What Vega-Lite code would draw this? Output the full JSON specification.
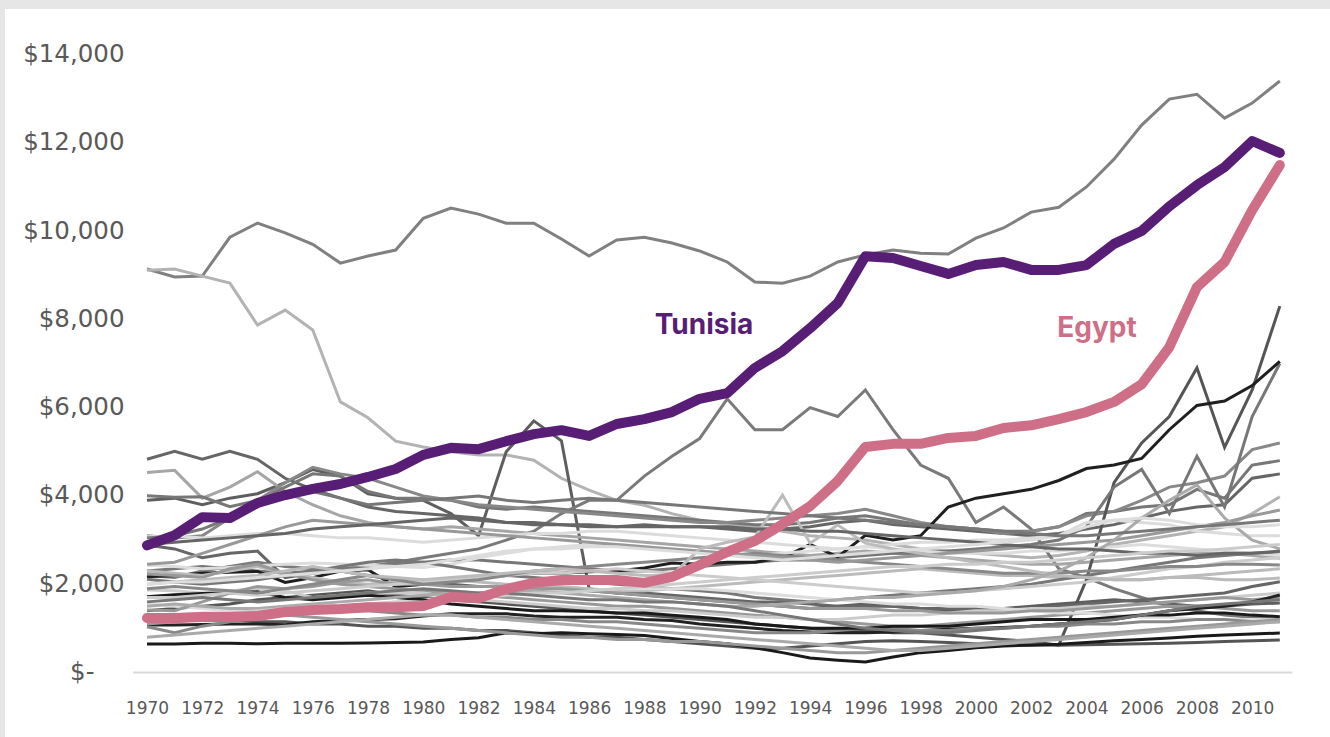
{
"$schema": "https://vega.github.io/schema/vega-lite/v6.json",
"width": 1325, "height": 728,
"autosize": {"type": "none"},
"padding": {"left": 5, "top": 9, "right": 0, "bottom": 0},
"background": "#e6e6e6",
"config": {"view": {"fill": "white", "stroke": null}, "font": "Inter", "legend": {"disable": true}},
"datasets": {"d": [
{"c":"Tunisia","1970":2880,"1971":3110,"1972":3520,"1973":3500,"1974":3840,"1975":4020,"1976":4160,"1977":4270,"1978":4430,"1979":4610,"1980":4930,"1981":5090,"1982":5060,"1983":5240,"1984":5400,"1985":5490,"1986":5360,"1987":5630,"1988":5740,"1989":5900,"1990":6200,"1991":6330,"1992":6900,"1993":7280,"1994":7800,"1995":8370,"1996":9430,"1997":9390,"1998":9210,"1999":9030,"2000":9230,"2001":9300,"2002":9120,"2003":9120,"2004":9230,"2005":9710,"2006":10000,"2007":10560,"2008":11040,"2009":11450,"2010":12040,"2011":11770},
{"c":"Egypt","1970":1235,"1971":1235,"1972":1257,"1973":1257,"1974":1280,"1975":1370,"1976":1415,"1977":1440,"1978":1480,"1979":1480,"1980":1505,"1981":1710,"1982":1680,"1983":1890,"1984":2030,"1985":2095,"1986":2095,"1987":2095,"1988":2030,"1989":2165,"1990":2435,"1991":2730,"1992":2980,"1993":3360,"1994":3770,"1995":4340,"1996":5110,"1997":5180,"1998":5180,"1999":5315,"2000":5360,"2001":5540,"2002":5600,"2003":5740,"2004":5900,"2005":6130,"2006":6530,"2007":7370,"2008":8730,"2009":9300,"2010":10475,"2011":11495},
{"c":"g01","1970":9140,"1971":8960,"1972":8980,"1973":9860,"1974":10180,"1975":9960,"1976":9700,"1977":9275,"1978":9435,"1979":9570,"1980":10290,"1981":10520,"1982":10385,"1983":10180,"1984":10180,"1985":9820,"1986":9435,"1987":9800,"1988":9860,"1989":9730,"1990":9550,"1991":9300,"1992":8845,"1993":8820,"1994":8980,"1995":9300,"1996":9460,"1997":9570,"1998":9500,"1999":9480,"2000":9840,"2001":10070,"2002":10430,"2003":10540,"2004":11000,"2005":11630,"2006":12400,"2007":12990,"2008":13100,"2009":12560,"2010":12900,"2011":13400},
{"c":"g02","1970":9110,"1971":9140,"1972":8980,"1973":8820,"1974":7870,"1975":8210,"1976":7760,"1977":6130,"1978":5770,"1979":5240,"1980":5110,"1981":5000,"1982":4930,"1983":4930,"1984":4810,"1985":4400,"1986":4130,"1987":3900,"1988":3790,"1989":3600,"1990":3450,"1991":3350,"1992":3300,"1993":3200,"1994":3100,"1995":3050,"1996":3000,"1997":2900,"1998":2800,"1999":2750,"2000":2700,"2001":2650,"2002":2600,"2003":2650,"2004":2750,"2005":2900,"2006":3000,"2007":3100,"2008":3200,"2009":3300,"2010":3600,"2011":3980},
{"c":"g03","1970":3900,"1971":3950,"1972":3800,"1973":3950,"1974":4050,"1975":4300,"1976":4600,"1977":4450,"1978":4050,"1979":3950,"1980":3900,"1981":3600,"1982":3100,"1983":5000,"1984":5700,"1985":5250,"1986":1900,"1987":1800,"1988":1750,"1989":1700,"1990":1650,"1991":1600,"1992":1550,"1993":1500,"1994":1450,"1995":1500,"1996":1550,"1997":1500,"1998":1450,"1999":1400,"2000":1400,"2001":1450,"2002":1500,"2003":1550,"2004":1600,"2005":1650,"2006":1600,"2007":1550,"2008":1500,"2009":1500,"2010":1550,"2011":1575},
{"c":"g04","1970":2200,"1971":2150,"1972":2300,"1973":2400,"1974":2500,"1975":2400,"1976":2350,"1977":2300,"1978":2400,"1979":2500,"1980":2600,"1981":2700,"1982":2800,"1983":3000,"1984":3200,"1985":3600,"1986":3900,"1987":3900,"1988":4450,"1989":4900,"1990":5300,"1991":6200,"1992":5500,"1993":5500,"1994":6000,"1995":5800,"1996":6400,"1997":5500,"1998":4700,"1999":4400,"2000":3400,"2001":3750,"2002":3250,"2003":2350,"2004":2150,"2005":1900,"2006":1700,"2007":1500,"2008":1400,"2009":1300,"2010":1250,"2011":1200},
{"c":"g05","1970":4830,"1971":5010,"1972":4830,"1973":5010,"1974":4830,"1975":4400,"1976":4150,"1977":3950,"1978":3750,"1979":3650,"1980":3600,"1981":3550,"1982":3500,"1983":3400,"1984":3350,"1985":3350,"1986":3300,"1987":3300,"1988":3350,"1989":3300,"1990":3300,"1991":3250,"1992":3200,"1993":3250,"1994":3300,"1995":3400,"1996":3450,"1997":3350,"1998":3300,"1999":3250,"2000":3200,"2001":3150,"2002":3100,"2003":3150,"2004":3250,"2005":3350,"2006":3500,"2007":3650,"2008":3750,"2009":3800,"2010":4400,"2011":4500},
{"c":"g06","1970":4530,"1971":4580,"1972":3950,"1973":4200,"1974":4550,"1975":4100,"1976":3800,"1977":3550,"1978":3400,"1979":3300,"1980":3250,"1981":3300,"1982":3250,"1983":3200,"1984":3150,"1985":3100,"1986":3050,"1987":3000,"1988":2950,"1989":2900,"1990":2850,"1991":2800,"1992":2750,"1993":2700,"1994":2650,"1995":2700,"1996":2750,"1997":2700,"1998":2650,"1999":2600,"2000":2550,"2001":2500,"2002":2450,"2003":2450,"2004":2500,"2005":2550,"2006":2600,"2007":2650,"2008":2700,"2009":2700,"2010":2650,"2011":2590},
{"c":"g07","1970":4005,"1971":3970,"1972":3980,"1973":3755,"1974":3900,"1975":4200,"1976":4500,"1977":4450,"1978":4100,"1979":3950,"1980":3950,"1981":3900,"1982":3750,"1983":3700,"1984":3750,"1985":3700,"1986":3650,"1987":3600,"1988":3550,"1989":3500,"1990":3450,"1991":3400,"1992":3350,"1993":3350,"1994":3400,"1995":3500,"1996":3550,"1997":3450,"1998":3350,"1999":3300,"2000":3250,"2001":3200,"2002":3200,"2003":3300,"2004":3600,"2005":3650,"2006":3750,"2007":3800,"2008":4150,"2009":3950,"2010":4700,"2011":4800},
{"c":"g08","1970":3100,"1971":3050,"1972":3100,"1973":3500,"1974":3900,"1975":4300,"1976":4650,"1977":4500,"1978":4400,"1979":4200,"1980":4000,"1981":3900,"1982":3800,"1983":3750,"1984":3700,"1985":3650,"1986":3600,"1987":3550,"1988":3500,"1989":3450,"1990":3400,"1991":3400,"1992":3450,"1993":3500,"1994":3550,"1995":3600,"1996":3700,"1997":3550,"1998":3400,"1999":3300,"2000":3250,"2001":3150,"2002":3200,"2003":3300,"2004":3550,"2005":3650,"2006":3900,"2007":4200,"2008":4300,"2009":4450,"2010":5050,"2011":5200},
{"c":"g09","1970":1400,"1971":1450,"1972":1500,"1973":1550,"1974":1650,"1975":1700,"1976":1750,"1977":1800,"1978":1850,"1979":1750,"1980":1700,"1981":1650,"1982":1600,"1983":1550,"1984":1500,"1985":1450,"1986":1400,"1987":1350,"1988":1300,"1989":1250,"1990":1200,"1991":1150,"1992":1100,"1993":1050,"1994":1000,"1995":950,"1996":950,"1997":900,"1998":900,"1999":850,"2000":800,"2001":750,"2002":700,"2003":620,"2004":2100,"2005":4300,"2006":5200,"2007":5800,"2008":6900,"2009":5100,"2010":6400,"2011":8300},
{"c":"g10","1970":2300,"1971":2350,"1972":2400,"1973":2350,"1974":2300,"1975":2250,"1976":2300,"1977":2350,"1978":2400,"1979":2450,"1980":2500,"1981":2550,"1982":2550,"1983":2500,"1984":2450,"1985":2400,"1986":2350,"1987":2300,"1988":2300,"1989":2350,"1990":2400,"1991":2450,"1992":2500,"1993":2550,"1994":2550,"1995":2600,"1996":2650,"1997":2700,"1998":2700,"1999":2750,"2000":2800,"2001":2850,"2002":2900,"2003":3000,"2004":3300,"2005":4200,"2006":4600,"2007":3600,"2008":4900,"2009":3750,"2010":5800,"2011":7000},
{"c":"g11","1970":2170,"1971":2200,"1972":2250,"1973":2270,"1974":2290,"1975":2040,"1976":2150,"1977":2300,"1978":2330,"1979":1945,"1980":2000,"1981":2100,"1982":2150,"1983":2200,"1984":2250,"1985":2250,"1986":2280,"1987":2300,"1988":2370,"1989":2480,"1990":2450,"1991":2500,"1992":2500,"1993":2600,"1994":2900,"1995":2620,"1996":3110,"1997":3000,"1998":3100,"1999":3750,"2000":3950,"2001":4050,"2002":4150,"2003":4350,"2004":4620,"2005":4700,"2006":4850,"2007":5500,"2008":6050,"2009":6150,"2010":6500,"2011":7050},
{"c":"g12","1970":3075,"1971":3100,"1972":3050,"1973":3100,"1974":3150,"1975":3150,"1976":3100,"1977":3050,"1978":3050,"1979":3000,"1980":2950,"1981":3000,"1982":3050,"1983":3100,"1984":3150,"1985":3150,"1986":3200,"1987":3200,"1988":3150,"1989":3100,"1990":3050,"1991":3000,"1992":2950,"1993":2900,"1994":2850,"1995":2800,"1996":2850,"1997":2900,"1998":2950,"1999":2950,"2000":3000,"2001":3000,"2002":3050,"2003":3100,"2004":3400,"2005":3450,"2006":3400,"2007":3350,"2008":3200,"2009":3150,"2010":3100,"2011":3100},
{"c":"g13","1970":2890,"1971":2800,"1972":2600,"1973":2700,"1974":2750,"1975":2150,"1976":2250,"1977":2300,"1978":2200,"1979":2100,"1980":2050,"1981":2000,"1982":1950,"1983":1950,"1984":1900,"1985":1900,"1986":1850,"1987":1800,"1988":1800,"1989":1750,"1990":1700,"1991":1650,"1992":1600,"1993":1600,"1994":1550,"1995":1500,"1996":1500,"1997":1500,"1998":1450,"1999":1450,"2000":1450,"2001":1450,"2002":1450,"2003":1500,"2004":1550,"2005":1600,"2006":1650,"2007":1700,"2008":1750,"2009":1800,"2010":1950,"2011":2055},
{"c":"g14","1970":2435,"1971":2400,"1972":2350,"1973":2380,"1974":2420,"1975":2450,"1976":2480,"1977":2460,"1978":2430,"1979":2400,"1980":2380,"1981":2450,"1982":2600,"1983":2700,"1984":2800,"1985":2850,"1986":2900,"1987":2900,"1988":2850,"1989":2800,"1990":2750,"1991":2700,"1992":2650,"1993":2700,"1994":2750,"1995":2800,"1996":2850,"1997":2800,"1998":2750,"1999":2700,"2000":2700,"2001":2700,"2002":2750,"2003":2750,"2004":2800,"2005":2850,"2006":2900,"2007":2850,"2008":2800,"2009":2750,"2010":2700,"2011":2650},
{"c":"g15","1970":2305,"1971":2250,"1972":2200,"1973":2300,"1974":2400,"1975":2250,"1976":2150,"1977":2050,"1978":2000,"1979":2050,"1980":2100,"1981":2100,"1982":2050,"1983":2000,"1984":1950,"1985":1950,"1986":1900,"1987":1850,"1988":1850,"1989":1900,"1990":1950,"1991":2000,"1992":2050,"1993":2100,"1994":2150,"1995":2200,"1996":2250,"1997":2300,"1998":2350,"1999":2300,"2000":2250,"2001":2200,"2002":2200,"2003":2150,"2004":2150,"2005":2100,"2006":2100,"2007":2150,"2008":2150,"2009":2100,"2010":2100,"2011":2140},
{"c":"g16","1970":2230,"1971":2200,"1972":2150,"1973":2350,"1974":2450,"1975":2250,"1976":2100,"1977":2000,"1978":1950,"1979":1900,"1980":1850,"1981":1800,"1982":1750,"1983":1700,"1984":1650,"1985":1600,"1986":1550,"1987":1500,"1988":1500,"1989":1450,"1990":1400,"1991":1350,"1992":1300,"1993":1250,"1994":1200,"1995":1150,"1996":1100,"1997":1050,"1998":1050,"1999":1100,"2000":1150,"2001":1200,"2002":1250,"2003":1300,"2004":1350,"2005":1400,"2006":1450,"2007":1500,"2008":1500,"2009":1450,"2010":1400,"2011":1400},
{"c":"g17","1970":2115,"1971":2050,"1972":2000,"1973":2050,"1974":2100,"1975":2200,"1976":2300,"1977":2400,"1978":2500,"1979":2550,"1980":2500,"1981":2400,"1982":2300,"1983":2200,"1984":2150,"1985":2100,"1986":2050,"1987":2000,"1988":1950,"1989":1900,"1990":1850,"1991":1800,"1992":1700,"1993":1650,"1994":1600,"1995":1650,"1996":1700,"1997":1750,"1998":1800,"1999":1850,"2000":1900,"2001":1950,"2002":2000,"2003":2100,"2004":2200,"2005":2300,"2006":2400,"2007":2500,"2008":2600,"2009":2650,"2010":2700,"2011":2735},
{"c":"g18","1970":1870,"1971":1850,"1972":1800,"1973":1850,"1974":1900,"1975":1850,"1976":1700,"1977":1750,"1978":1800,"1979":1800,"1980":1800,"1981":1700,"1982":1650,"1983":1600,"1984":1550,"1985":1500,"1986":1450,"1987":1450,"1988":1400,"1989":1400,"1990":1350,"1991":1300,"1992":1250,"1993":1250,"1994":1200,"1995":1200,"1996":1250,"1997":1300,"1998":1300,"1999":1350,"2000":1400,"2001":1400,"2002":1450,"2003":1450,"2004":1500,"2005":1500,"2006":1550,"2007":1600,"2008":1650,"2009":1700,"2010":1750,"2011":1800},
{"c":"g19","1970":1550,"1971":1500,"1972":1450,"1973":1400,"1974":1350,"1975":1400,"1976":1450,"1977":1500,"1978":1550,"1979":1600,"1980":1650,"1981":1700,"1982":1750,"1983":1800,"1984":1850,"1985":1850,"1986":1850,"1987":1900,"1988":1900,"1989":1900,"1990":1900,"1991":1850,"1992":1800,"1993":1750,"1994":1700,"1995":1650,"1996":1600,"1997":1550,"1998":1550,"1999":1500,"2000":1500,"2001":1450,"2002":1400,"2003":1350,"2004":1350,"2005":1300,"2006":1250,"2007":1250,"2008":1200,"2009":1200,"2010":1200,"2011":1190},
{"c":"g20","1970":1415,"1971":1400,"1972":1600,"1973":1800,"1974":1950,"1975":1900,"1976":1950,"1977":2050,"1978":2100,"1979":2000,"1980":2000,"1981":1950,"1982":1950,"1983":1950,"1984":1900,"1985":1900,"1986":1850,"1987":1800,"1988":1750,"1989":1700,"1990":1650,"1991":1600,"1992":1550,"1993":1500,"1994":1450,"1995":1450,"1996":1450,"1997":1400,"1998":1400,"1999":1350,"2000":1350,"2001":1350,"2002":1400,"2003":1400,"2004":1450,"2005":1500,"2006":1550,"2007":1600,"2008":1650,"2009":1700,"2010":1650,"2011":1700},
{"c":"g21","1970":1250,"1971":1250,"1972":1200,"1973":1200,"1974":1150,"1975":1150,"1976":1100,"1977":1100,"1978":1050,"1979":1050,"1980":1000,"1981":1000,"1982":950,"1983":950,"1984":900,"1985":850,"1986":800,"1987":800,"1988":750,"1989":700,"1990":650,"1991":600,"1992":550,"1993":550,"1994":600,"1995":650,"1996":700,"1997":720,"1998":700,"1999":680,"2000":650,"2001":640,"2002":630,"2003":620,"2004":630,"2005":640,"2006":650,"2007":660,"2008":680,"2009":700,"2010":720,"2011":735},
{"c":"g22","1970":645,"1971":645,"1972":660,"1973":660,"1974":650,"1975":660,"1976":665,"1977":665,"1978":670,"1979":680,"1980":690,"1981":750,"1982":790,"1983":900,"1984":880,"1985":900,"1986":880,"1987":860,"1988":840,"1989":770,"1990":700,"1991":650,"1992":560,"1993":450,"1994":330,"1995":280,"1996":240,"1997":350,"1998":450,"1999":500,"2000":560,"2001":600,"2002":620,"2003":640,"2004":680,"2005":720,"2006":750,"2007":780,"2008":820,"2009":850,"2010":870,"2011":895},
{"c":"g23","1970":1075,"1971":1075,"1972":1090,"1973":1100,"1974":1100,"1975":1080,"1976":1150,"1977":1180,"1978":1200,"1979":1220,"1980":1280,"1981":1330,"1982":1330,"1983":1330,"1984":1280,"1985":1250,"1986":1250,"1987":1250,"1988":1200,"1989":1180,"1990":1100,"1991":1050,"1992":1000,"1993":950,"1994":920,"1995":900,"1996":900,"1997":920,"1998":950,"1999":980,"2000":1000,"2001":1020,"2002":1050,"2003":1100,"2004":1150,"2005":1200,"2006":1300,"2007":1400,"2008":1450,"2009":1500,"2010":1600,"2011":1755},
{"c":"g24","1970":1037,"1971":900,"1972":1050,"1973":1150,"1974":1250,"1975":1300,"1976":1350,"1977":1400,"1978":1400,"1979":1350,"1980":1300,"1981":1300,"1982":1250,"1983":1250,"1984":1200,"1985":1200,"1986":1150,"1987":1150,"1988":1100,"1989":1050,"1990":1000,"1991":950,"1992":900,"1993":900,"1994":900,"1995":950,"1996":1000,"1997":1000,"1998":950,"1999":950,"2000":1000,"2001":1000,"2002":1050,"2003":1050,"2004":1100,"2005":1100,"2006":1150,"2007":1150,"2008":1200,"2009":1200,"2010":1150,"2011":1150},
{"c":"g25","1970":1717,"1971":1760,"1972":1790,"1973":1800,"1974":1830,"1975":1700,"1976":1650,"1977":1700,"1978":1750,"1979":1700,"1980":1650,"1981":1550,"1982":1500,"1983":1450,"1984":1400,"1985":1400,"1986":1380,"1987":1350,"1988":1350,"1989":1300,"1990":1250,"1991":1200,"1992":1100,"1993":1050,"1994":1000,"1995":1000,"1996":1000,"1997":1050,"1998":1050,"1999":1050,"2000":1100,"2001":1150,"2002":1200,"2003":1200,"2004":1200,"2005":1250,"2006":1300,"2007":1300,"2008":1350,"2009":1350,"2010":1300,"2011":1265},
{"c":"g26","1970":1700,"1971":1700,"1972":1750,"1973":1800,"1974":1750,"1975":1800,"1976":1850,"1977":1900,"1978":1950,"1979":2000,"1980":2050,"1981":2100,"1982":2150,"1983":2200,"1984":2250,"1985":2250,"1986":2300,"1987":2350,"1988":2300,"1989":2250,"1990":2200,"1991":2150,"1992":2100,"1993":2050,"1994":2000,"1995":1950,"1996":1900,"1997":1850,"1998":1800,"1999":1800,"2000":1850,"2001":1900,"2002":1950,"2003":2000,"2004":2050,"2005":2150,"2006":2250,"2007":2350,"2008":2400,"2009":2500,"2010":2550,"2011":2600},
{"c":"g27","1970":1900,"1971":1950,"1972":1900,"1973":1850,"1974":1800,"1975":1900,"1976":2000,"1977":2100,"1978":2200,"1979":2100,"1980":2000,"1981":2050,"1982":2100,"1983":2200,"1984":2300,"1985":2350,"1986":2400,"1987":2450,"1988":2500,"1989":2550,"1990":2600,"1991":2650,"1992":2700,"1993":2650,"1994":2600,"1995":2550,"1996":2500,"1997":2450,"1998":2400,"1999":2350,"2000":2300,"2001":2250,"2002":2250,"2003":2250,"2004":2300,"2005":2300,"2006":2350,"2007":2400,"2008":2400,"2009":2450,"2010":2450,"2011":2435},
{"c":"g28","1970":2450,"1971":2500,"1972":2700,"1973":2900,"1974":3100,"1975":3300,"1976":3450,"1977":3400,"1978":3350,"1979":3300,"1980":3250,"1981":3200,"1982":3150,"1983":3100,"1984":3050,"1985":3000,"1986":2950,"1987":2900,"1988":2850,"1989":2800,"1990":2750,"1991":2700,"1992":2650,"1993":2600,"1994":2550,"1995":2500,"1996":2550,"1997":2600,"1998":2650,"1999":2700,"2000":2750,"2001":2800,"2002":2850,"2003":2900,"2004":2950,"2005":3000,"2006":3100,"2007":3200,"2008":3300,"2009":3400,"2010":3550,"2011":3680},
{"c":"g29","1970":2000,"1971":2050,"1972":2100,"1973":2150,"1974":2200,"1975":2300,"1976":2400,"1977":2300,"1978":2200,"1979":2150,"1980":2100,"1981":2150,"1982":2200,"1983":2250,"1984":2300,"1985":2350,"1986":2300,"1987":2250,"1988":2200,"1989":2200,"1990":2800,"1991":2950,"1992":3070,"1993":4020,"1994":2930,"1995":3340,"1996":2930,"1997":2800,"1998":2700,"1999":2600,"2000":2500,"2001":2400,"2002":2300,"2003":2200,"2004":2150,"2005":2100,"2006":2100,"2007":2150,"2008":2200,"2009":2250,"2010":2300,"2011":2350},
{"c":"g30","1970":1500,"1971":1550,"1972":1500,"1973":1450,"1974":1450,"1975":1500,"1976":1550,"1977":1600,"1978":1650,"1979":1700,"1980":1750,"1981":1800,"1982":1800,"1983":1850,"1984":1850,"1985":1800,"1986":1750,"1987":1700,"1988":1650,"1989":1600,"1990":1550,"1991":1500,"1992":1500,"1993":1550,"1994":1600,"1995":1650,"1996":1700,"1997":1700,"1998":1750,"1999":1800,"2000":1850,"2001":1950,"2002":2100,"2003":2300,"2004":2600,"2005":3000,"2006":3500,"2007":3900,"2008":4250,"2009":3500,"2010":3000,"2011":2800},
{"c":"g31","1970":2900,"1971":2950,"1972":3000,"1973":3050,"1974":3100,"1975":3150,"1976":3250,"1977":3300,"1978":3350,"1979":3400,"1980":3450,"1981":3500,"1982":3450,"1983":3400,"1984":3400,"1985":3350,"1986":3350,"1987":3300,"1988":3300,"1989":3300,"1990":3300,"1991":3300,"1992":3250,"1993":3250,"1994":3200,"1995":3200,"1996":3150,"1997":3100,"1998":3050,"1999":3000,"2000":2950,"2001":2900,"2002":2850,"2003":2800,"2004":2800,"2005":2750,"2006":2700,"2007":2700,"2008":2650,"2009":2700,"2010":2700,"2011":2750},
{"c":"g32","1970":1300,"1971":1300,"1972":1350,"1973":1350,"1974":1400,"1975":1450,"1976":1500,"1977":1500,"1978":1550,"1979":1600,"1980":1600,"1981":1650,"1982":1700,"1983":1750,"1984":1800,"1985":1800,"1986":1850,"1987":1900,"1988":1950,"1989":2000,"1990":2050,"1991":2100,"1992":2150,"1993":2200,"1994":2250,"1995":2300,"1996":2350,"1997":2400,"1998":2400,"1999":2450,"2000":2450,"2001":2500,"2002":2500,"2003":2550,"2004":2600,"2005":2650,"2006":2700,"2007":2750,"2008":2750,"2009":2800,"2010":2850,"2011":2900},
{"c":"g33","1970":1100,"1971":1150,"1972":1200,"1973":1200,"1974":1250,"1975":1300,"1976":1250,"1977":1200,"1978":1150,"1979":1100,"1980":1050,"1981":1000,"1982":950,"1983":900,"1984":850,"1985":800,"1986":800,"1987":750,"1988":750,"1989":700,"1990":700,"1991":650,"1992":600,"1993":550,"1994":500,"1995":450,"1996":450,"1997":500,"1998":550,"1999":600,"2000":650,"2001":700,"2002":750,"2003":800,"2004":850,"2005":900,"2006":950,"2007":1000,"2008":1050,"2009":1100,"2010":1150,"2011":1200},
{"c":"g34","1970":1600,"1971":1650,"1972":1700,"1973":1650,"1974":1600,"1975":1650,"1976":1700,"1977":1750,"1978":1800,"1979":1850,"1980":1900,"1981":1850,"1982":1800,"1983":1800,"1984":1750,"1985":1700,"1986":1650,"1987":1650,"1988":1600,"1989":1600,"1990":1550,"1991":1500,"1992":1400,"1993":1300,"1994":1200,"1995":1100,"1996":1000,"1997":950,"1998":900,"1999":900,"2000":950,"2001":1000,"2002":1050,"2003":1100,"2004":1150,"2005":1200,"2006":1300,"2007":1400,"2008":1500,"2009":1550,"2010":1600,"2011":1650},
{"c":"g35","1970":2000,"1971":2050,"1972":2050,"1973":2100,"1974":2150,"1975":2200,"1976":2250,"1977":2300,"1978":2350,"1979":2400,"1980":2450,"1981":2550,"1982":2650,"1983":2750,"1984":2800,"1985":2800,"1986":2850,"1987":2850,"1988":2800,"1989":2750,"1990":2700,"1991":2650,"1992":2600,"1993":2550,"1994":2600,"1995":2650,"1996":2700,"1997":2750,"1998":2800,"1999":2850,"2000":2900,"2001":2950,"2002":3000,"2003":3100,"2004":3300,"2005":3450,"2006":3500,"2007":3450,"2008":3350,"2009":3300,"2010":3300,"2011":3350},
{"c":"g36","1970":3050,"1971":3100,"1972":3250,"1973":3500,"1974":3800,"1975":4000,"1976":4100,"1977":3950,"1978":3800,"1979":3850,"1980":3900,"1981":3950,"1982":4000,"1983":3900,"1984":3850,"1985":3900,"1986":3950,"1987":3900,"1988":3850,"1989":3800,"1990":3750,"1991":3700,"1992":3650,"1993":3600,"1994":3550,"1995":3500,"1996":3450,"1997":3400,"1998":3350,"1999":3300,"2000":3250,"2001":3200,"2002":3150,"2003":3100,"2004":3100,"2005":3150,"2006":3200,"2007":3250,"2008":3300,"2009":3350,"2010":3400,"2011":3450},
{"c":"g37","1970":800,"1971":850,"1972":900,"1973":950,"1974":1000,"1975":1050,"1976":1100,"1977":1150,"1978":1200,"1979":1250,"1980":1300,"1981":1300,"1982":1250,"1983":1200,"1984":1150,"1985":1100,"1986":1050,"1987":1000,"1988":950,"1989":900,"1990":850,"1991":800,"1992":750,"1993":700,"1994":650,"1995":600,"1996":550,"1997":500,"1998":500,"1999":550,"2000":600,"2001":650,"2002":700,"2003":750,"2004":800,"2005":850,"2006":900,"2007":950,"2008":1000,"2009":1050,"2010":1100,"2011":1150}
]},
"layer": [
{
 "data": {"values": [{}]},
 "mark": {"type": "rule", "color": "#d9d9d9", "strokeWidth": 2},
 "encoding": {
  "x": {"datum": 1969.5, "type": "quantitative", "scale": {"domain": [1964.861, 2012.816], "nice": false, "zero": false}},
  "x2": {"datum": 2011.45},
  "y": {"datum": 0, "type": "quantitative", "scale": {"domain": [-1461, 15031], "nice": false, "zero": false}}
 }
},
{
 "data": {"name": "d"},
 "transform": [
  {"filter": "datum.c != 'Tunisia' && datum.c != 'Egypt'"},
  {"fold": ["1970","1971","1972","1973","1974","1975","1976","1977","1978","1979","1980","1981","1982","1983","1984","1985","1986","1987","1988","1989","1990","1991","1992","1993","1994","1995","1996","1997","1998","1999","2000","2001","2002","2003","2004","2005","2006","2007","2008","2009","2010","2011"], "as": ["year", "gdp"]}
 ],
 "mark": {"type": "line", "strokeWidth": 3, "strokeJoin": "miter"},
 "encoding": {
  "x": {"field": "year", "type": "quantitative", "scale": {"domain": [1964.861, 2012.816], "nice": false, "zero": false},
   "axis": {"values": [1970,1972,1974,1976,1978,1980,1982,1984,1986,1988,1990,1992,1994,1996,1998,2000,2002,2004,2006,2008,2010], "format": "d", "labelFont": "DejaVu Sans", "labelFontSize": 17, "labelColor": "#595959", "ticks": false, "domain": false, "grid": false, "title": null, "offset": -24, "labelPadding": 0, "labelBaseline": "alphabetic", "labelFlush": false, "labelOverlap": false}},
  "y": {"field": "gdp", "type": "quantitative", "scale": {"domain": [-1461, 15031], "nice": false, "zero": false},
   "axis": {"values": [0,2000,4000,6000,8000,10000,12000,14000], "labelExpr": "datum.value == 0 ? '$-' : '$' + format(datum.value, ',')", "labelFont": "DejaVu Sans", "labelFontSize": 24.5, "labelColor": "#595959", "ticks": false, "domain": false, "grid": false, "title": null, "offset": -125, "labelPadding": {"condition": {"test": "datum.value === 0", "value": 36}, "value": 6}, "labelFlush": false, "labelOverlap": false}},
  "color": {"field": "c", "type": "nominal", "legend": null,
   "scale": {"domain": ["g01","g02","g03","g04","g05","g06","g07","g08","g09","g10","g11","g12","g13","g14","g15","g16","g17","g18","g19","g20","g21","g22","g23","g24","g25","g26","g27","g28","g29","g30","g31","g32","g33","g34","g35","g36","g37"],
    "range": ["#808080","#b3b3b3","#5e5e5e","#7a7a7a","#666666","#a6a6a6","#777777","#888888","#555555","#777777","#1f1f1f","#dcdcdc","#666666","#dddddd","#bbbbbb","#999999","#777777","#cccccc","#dddddd","#999999","#555555","#1a1a1a","#222222","#888888","#1a1a1a","#cccccc","#888888","#999999","#bbbbbb","#aaaaaa","#666666","#cccccc","#999999","#777777","#dddddd","#777777","#aaaaaa"]}}
 }
},
{
 "data": {"name": "d"},
 "transform": [
  {"filter": "datum.c == 'Egypt'"},
  {"fold": ["1970","1971","1972","1973","1974","1975","1976","1977","1978","1979","1980","1981","1982","1983","1984","1985","1986","1987","1988","1989","1990","1991","1992","1993","1994","1995","1996","1997","1998","1999","2000","2001","2002","2003","2004","2005","2006","2007","2008","2009","2010","2011"], "as": ["year", "gdp"]}
 ],
 "mark": {"type": "line", "strokeWidth": 10, "strokeCap": "round", "strokeJoin": "round", "color": "#cf6f87"},
 "encoding": {
  "x": {"field": "year", "type": "quantitative", "scale": {"domain": [1964.861, 2012.816], "nice": false, "zero": false}},
  "y": {"field": "gdp", "type": "quantitative", "scale": {"domain": [-1461, 15031], "nice": false, "zero": false}}
 }
},
{
 "data": {"name": "d"},
 "transform": [
  {"filter": "datum.c == 'Tunisia'"},
  {"fold": ["1970","1971","1972","1973","1974","1975","1976","1977","1978","1979","1980","1981","1982","1983","1984","1985","1986","1987","1988","1989","1990","1991","1992","1993","1994","1995","1996","1997","1998","1999","2000","2001","2002","2003","2004","2005","2006","2007","2008","2009","2010","2011"], "as": ["year", "gdp"]}
 ],
 "mark": {"type": "line", "strokeWidth": 10, "strokeCap": "round", "strokeJoin": "round", "color": "#581d74"},
 "encoding": {
  "x": {"field": "year", "type": "quantitative", "scale": {"domain": [1964.861, 2012.816], "nice": false, "zero": false}},
  "y": {"field": "gdp", "type": "quantitative", "scale": {"domain": [-1461, 15031], "nice": false, "zero": false}}
 }
},
{
 "data": {"values": [{}]},
 "mark": {"type": "text", "text": "Tunisia", "fontSize": 28, "fontWeight": "bold", "color": "#581d74", "align": "center", "baseline": "middle"},
 "encoding": {
  "x": {"datum": 1990.16, "type": "quantitative"},
  "y": {"datum": 7850, "type": "quantitative"}
 }
},
{
 "data": {"values": [{}]},
 "mark": {"type": "text", "text": "Egypt", "fontSize": 28, "fontWeight": "bold", "color": "#cf6f87", "align": "center", "baseline": "middle"},
 "encoding": {
  "x": {"datum": 2004.38, "type": "quantitative"},
  "y": {"datum": 7780, "type": "quantitative"}
 }
}
]
}
